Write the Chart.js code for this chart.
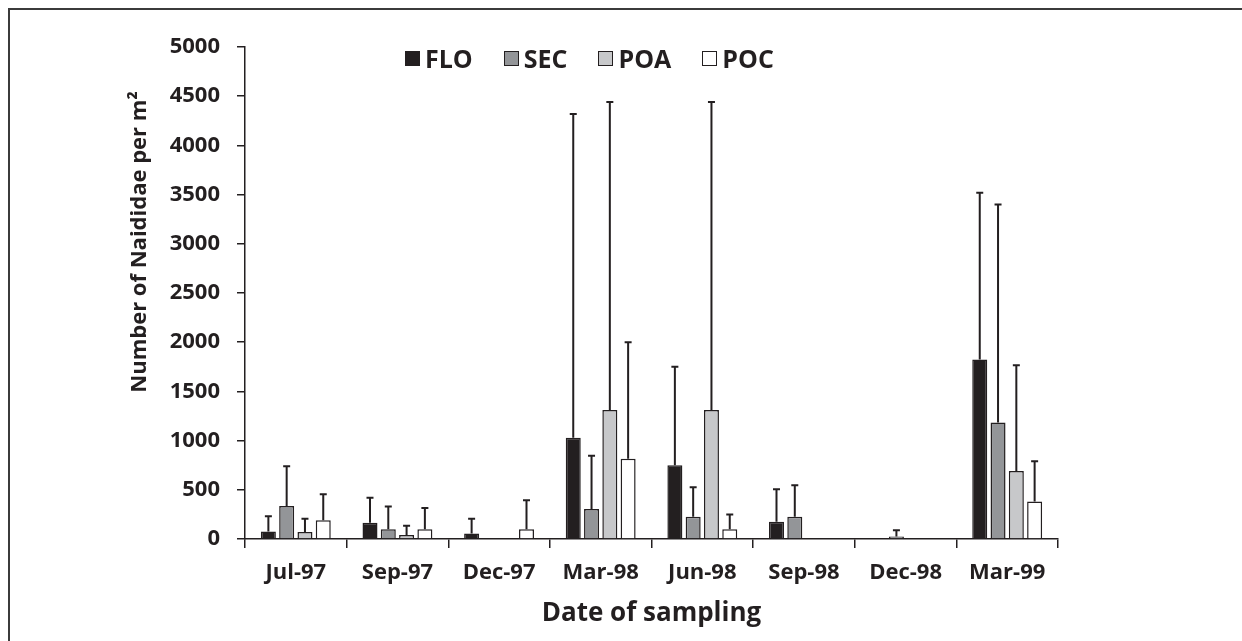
<!DOCTYPE html>
<html>
<head>
<meta charset="utf-8">
<script src="https://cdn.jsdelivr.net/npm/chart.js@4"></script>
<style>
    body { margin: 0; background: #fff; overflow: hidden; }
    #wrap { position: relative; width: 1242px; height: 641px; overflow: hidden; }
    #frame { position: absolute; left: 8px; top: 8px; width: 1300px; height: 700px;
             border-top: 2px solid #3b3b3b; border-left: 2px solid #3b3b3b; }
    #legend { position: absolute; left: 405px; top: 41px; display: flex; gap: 31px;
              font: bold 25px "Open Sans", sans-serif; color: #231f20; }
    .item { display: flex; align-items: center; gap: 5px; }
    .box { width: 13px; height: 13px; border: 1.5px solid #231f20; }
    canvas { position: absolute; left: 0; top: 0; }
</style>
</head>
<body>
<div id="wrap">
    <div id="frame"></div>
    <canvas id="naididChart" width="1242" height="641"></canvas>
    <div id="legend"></div>
</div>
<script>
// Datas de amostragem
const categorias = ['Jul-97', 'Sep-97', 'Dec-97', 'Mar-98', 'Jun-98', 'Sep-98', 'Dec-98', 'Mar-99'];

// Médias por local (indivíduos por m²)
const flo = [75, 165, 55, 1030, 750, 175, 0, 1825];
const sec = [335, 100, 0, 305, 225, 225, 25, 1185];
const poa = [70, 40, 0, 1310, 1310, 0, 0, 690];
const poc = [190, 100, 100, 815, 100, 0, 0, 380];

// Desvio padrão (barra de erro superior)
const floSd = [155, 255, 150, 3290, 1000, 330, 0, 1695];
const secSd = [405, 230, 0, 540, 300, 320, 65, 2215];
const poaSd = [135, 95, 0, 3130, 3130, 0, 0, 1075];
const pocSd = [265, 215, 295, 1185, 150, 0, 0, 410];

const yTicks = [0, 500, 1000, 1500, 2000, 2500, 3000, 3500, 4000, 4500, 5000];

const ink = '#231f20';
const fonte = '"Open Sans", sans-serif';

const series = [
    { label: 'FLO', data: flo, errors: floSd, color: '#231f20' },
    { label: 'SEC', data: sec, errors: secSd, color: '#939598' },
    { label: 'POA', data: poa, errors: poaSd, color: '#c7c8ca' },
    { label: 'POC', data: poc, errors: pocSd, color: '#ffffff' }
];

// Barras de erro desenhadas depois das barras
const errorBars = {
    id: 'errorBars',
    afterDatasetsDraw(chart) {
        const ctx = chart.ctx;
        const y = chart.scales.y;
        ctx.save();
        ctx.strokeStyle = ink;
        ctx.lineWidth = 2;
        chart.data.datasets.forEach((ds, i) => {
            chart.getDatasetMeta(i).data.forEach((bar, j) => {
                const sd = ds.errors[j];
                if (!sd) return;
                const top = y.getPixelForValue(ds.data[j] + sd);
                ctx.beginPath();
                ctx.moveTo(bar.x, bar.y);
                ctx.lineTo(bar.x, top);
                ctx.moveTo(bar.x - 3.5, top);
                ctx.lineTo(bar.x + 3.5, top);
                ctx.stroke();
            });
        });
        ctx.restore();
    }
};

// Título do eixo Y (posição como no original)
const yTitle = {
    id: 'yTitle',
    afterDraw(chart) {
        const ctx = chart.ctx;
        ctx.save();
        ctx.translate(140, 242);
        ctx.rotate(-Math.PI / 2);
        ctx.fillStyle = ink;
        ctx.font = 'bold 22px ' + fonte;
        ctx.textAlign = 'center';
        ctx.textBaseline = 'middle';
        ctx.fillText('Number of Naididae per m²', 0, 0);
        ctx.restore();
    }
};

const ctx = document.getElementById('naididChart').getContext('2d');
new Chart(ctx, {
    type: 'bar',
    data: {
        labels: categorias,
        datasets: series.map(s => ({
            label: s.label,
            data: s.data,
            errors: s.errors,
            backgroundColor: s.color,
            borderColor: ink,
            borderWidth: 1.5,
            borderSkipped: 'bottom',
            categoryPercentage: 0.72,
            barPercentage: 0.82
        }))
    },
    options: {
        responsive: false,
        animation: false,
        layout: { padding: { left: 127, top: 47, right: 184, bottom: 12 } },
        plugins: {
            legend: { display: false },
            tooltip: { enabled: false }
        },
        scales: {
            x: {
                afterFit: scale => { scale.height = 90; },
                grid: {
                    offset: true,
                    drawOnChartArea: false,
                    drawTicks: true,
                    tickLength: 9,
                    color: ink,
                    lineWidth: 1.5
                },
                border: { display: true, color: ink, width: 1.5 },
                ticks: {
                    color: ink,
                    padding: 12,
                    font: { family: fonte, size: 22, weight: 'bold' }
                },
                title: {
                    display: true,
                    text: 'Date of sampling',
                    color: ink,
                    padding: 0,
                    font: { family: fonte, size: 26, weight: 'bold' }
                }
            },
            y: {
                min: 0,
                max: 5000,
                afterFit: scale => { scale.width = 118; },
                afterBuildTicks: scale => { scale.ticks = yTicks.map(v => ({ value: v })); },
                grid: {
                    drawOnChartArea: false,
                    drawTicks: true,
                    tickLength: 8,
                    color: ink,
                    lineWidth: 1.5
                },
                border: { display: true, color: ink, width: 1.5 },
                ticks: {
                    color: ink,
                    padding: 17,
                    font: { family: fonte, size: 22, weight: 'bold' },
                    callback: value => String(value)
                }
            }
        }
    },
    plugins: [errorBars, yTitle]
});

// Legenda em HTML
const legend = document.getElementById('legend');
series.forEach(s => {
    const item = document.createElement('div');
    item.className = 'item';
    item.innerHTML = `<span class="box" style="background:${s.color}"></span><span>${s.label}</span>`;
    legend.appendChild(item);
});
</script>
</body>
</html>
